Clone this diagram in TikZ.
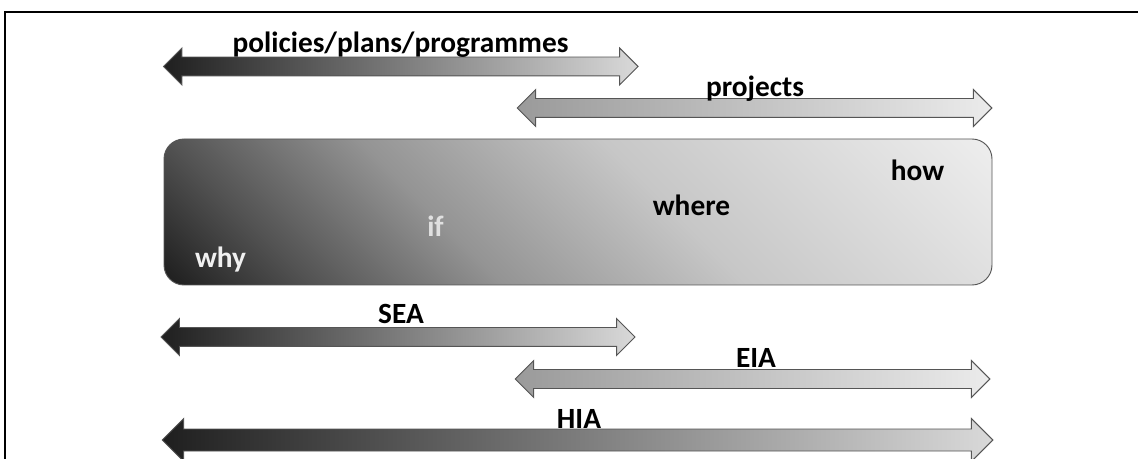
\documentclass[tikz,border=0pt]{standalone}
\usepackage{fontspec}
\setmainfont{Carlito}
\usepackage{tikz}
\usetikzlibrary{shapes.arrows}
\definecolor{spandark}{HTML}{1F1F1F}
\definecolor{spanlight}{HTML}{D9D9D9}
\definecolor{spanmid}{HTML}{9A9A9A}
\definecolor{spanpale}{HTML}{EBEBEB}
\definecolor{edgegray}{HTML}{555555}
\definecolor{boxdark}{HTML}{1C1C1C}
\definecolor{boxlight}{HTML}{EEEEEE}
\pgfdeclarehorizontalshading{boxfade}{100bp}{color(0bp)=(boxdark); color(25bp)=(boxdark);
  color(32.5bp)=(black!68); color(42.5bp)=(black!42); color(55bp)=(black!22);
  color(75bp)=(boxlight); color(100bp)=(boxlight)}
\tikzstyle{span} = [double arrow, draw=edgegray, line width=0.7pt, inner sep=0pt, inner ysep=6.75pt, double arrow head extend=6.75pt]
\tikzstyle{darkspan} = [span, left color=spandark, right color=spanlight]
\tikzstyle{palespan} = [span, left color=spanmid, right color=spanpale]
\tikzstyle{spanlabel} = [anchor=base, inner sep=0pt, font=\bfseries\fontsize{22}{26}\selectfont]
\tikzstyle{stage} = [rectangle, inner sep=0pt, outer sep=0pt]
\tikzstyle{stageedge} = [draw=edgegray, line width=0.7pt, rounded corners=15pt]

\begin{document}
\begin{tikzpicture}[x=0.75pt, y=-0.75pt]
\useasboundingbox (0,0) rectangle (1138,459);
\clip (0,0) rectangle (1138,459);
\draw[line width=1.5pt] (5,480) -- (5,12) -- (1160,12);

% upper spans
\node[darkspan, minimum height=356pt] (ppp) at (400.75,66.5) {};
\node[palespan, minimum height=356pt] (proj) at (754.5,108) {};
\node[spanlabel] (ppplabel) at (400.5,53) {policies/plans/programmes};
\node[spanlabel] (projlabel) at (755,97) {projects};

% the question box, shaded from its lower left corner
\node[stage, minimum width=621pt, minimum height=109.5pt] (stage) at (578,212) {};
\begin{scope}
  \clip[rounded corners=15pt] (stage.south west) rectangle (stage.north east);
  \begin{scope}[transform canvas={shift={(stage.south west)}, rotate=45}]
    \shade[shading=boxfade] (0pt,-450pt) rectangle (516.75pt,90pt);
  \end{scope}
\end{scope}
\draw[stageedge] (stage.south west) rectangle (stage.north east);
\node[spanlabel, text=white!94!black] (why) at (220.5,268) {why};
\node[spanlabel, text=white!88!black] (if) at (435.5,237) {if};
\node[spanlabel] (where) at (691.5,216) {where};
\node[spanlabel] (how) at (917.5,181) {how};

% assessment spans
\node[darkspan, minimum height=355.5pt] (sea) at (398,337) {};
\node[palespan, minimum height=356pt] (eia) at (752.5,379) {};
\node[darkspan, minimum height=623pt, inner ysep=7.9pt, double arrow head extend=7.9pt] (hia) at (577.5,440) {};
\node[spanlabel] (sealabel) at (401,324) {SEA};
\node[spanlabel] (eialabel) at (756,368) {EIA};
\node[spanlabel] (hialabel) at (579,428) {HIA};
\end{tikzpicture}
\end{document}
